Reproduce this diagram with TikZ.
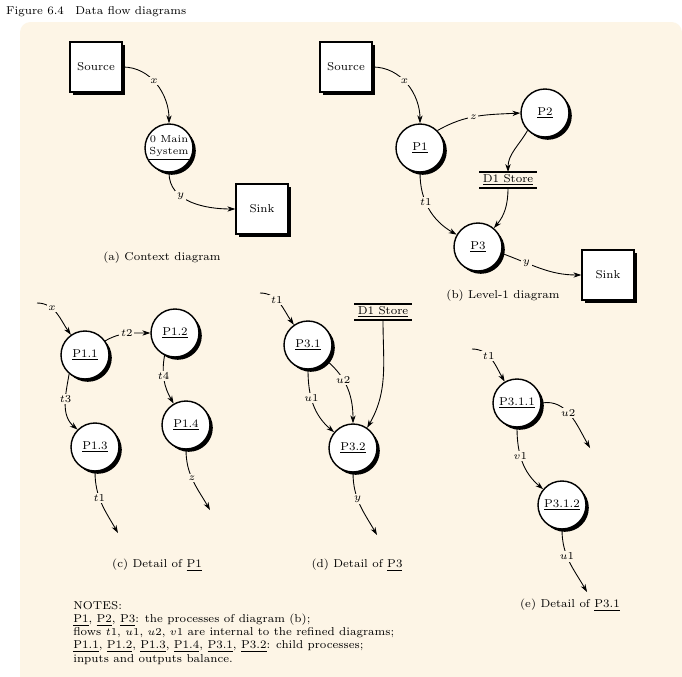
\documentclass[tikz,border=0pt]{standalone}
\usetikzlibrary{shadows,arrows.meta}
\definecolor{bg}{HTML}{FDF5E6}
\begin{document}
\begin{tikzpicture}[x=0.02cm,y=-0.02cm,
  font=\fontsize{6.5}{7.5}\selectfont,
  shad/.style={drop shadow={shadow xshift=1.6pt,shadow yshift=-1.6pt,opacity=1,fill=black}},
  proc/.style={circle,draw,line width=0.8pt,fill=white,minimum size=0.96cm,inner sep=0pt,align=center,shad},
  ent/.style={rectangle,draw,line width=0.8pt,fill=white,minimum width=1.04cm,minimum height=1cm,inner sep=1pt,shad},
  store/.style={rectangle,minimum width=1.14cm,minimum height=0.28cm,inner sep=1pt},
  flow/.style={-{Stealth[length=4.5pt,width=3pt]},line width=0.5pt},
  lab/.style={fill=bg,inner sep=1pt},
  captext/.style={anchor=center}]
\useasboundingbox (0,0) rectangle (682,676);
\fill[white] (0,0) rectangle (682,676);
\fill[bg,rounded corners=6pt] (20,22) rectangle (682,690);
\node[anchor=west] (title) at (0,12) {Figure 6.4\quad Data flow diagrams};

% (a)
\node[ent] (srcA) at (96,67) {Source};
\node[proc,font=\fontsize{5.8}{6.8}\selectfont] (pA) at (169,148) {0 Main\\\underline{System}};
\node[ent] (snkA) at (262,209) {Sink};
\draw[flow] (srcA.east) to[out=0,in=90] node[lab,pos=0.45] {$x$} (pA.north);
\draw[flow] (pA.south) to[out=-90,in=180] node[lab,pos=0.35] {$y$} (snkA.west);
\node[captext] (capA) at (162,258) {(a) Context diagram};

% (b)
\node[ent] (srcB) at (346,67) {Source};
\node[proc] (p1) at (420,148) {\underline{P1}};
\node[proc] (p2) at (545,113) {\underline{P2}};
\node[store] (stB) at (508,180) {\underline{D1 Store}};
\draw[line width=0.8pt] (stB.north west) -- (stB.north east);
\draw[line width=0.8pt] (stB.south west) -- (stB.south east);
\node[proc] (p3) at (478,247) {\underline{P3}};
\node[ent] (snkB) at (608,275) {Sink};
\draw[flow] (srcB.east) to[out=0,in=90] node[lab,pos=0.45] {$x$} (p1.north);
\draw[flow] (p1.45) to[out=30,in=183] node[lab,pos=0.45] {$z$} (p2.west);
\draw[flow] (p2.225) to[out=-120,in=90] (stB.north);
\draw[flow] (stB.south) to[out=-90,in=50] (p3.50);
\draw[flow] (p1.south) to[out=-90,in=150] node[lab,pos=0.4] {$t1$} (p3.150);
\draw[flow] (p3.-15) to[out=-20,in=180] node[lab,pos=0.3] {$y$} (snkB.west);
\node[captext] (capB) at (503,296) {(b) Level-1 diagram};

% (c)
\coordinate (cin) at (37,303);
\node[proc] (c1) at (85,355) {\underline{P1.1}};
\node[proc] (c2) at (175,333) {\underline{P1.2}};
\node[proc] (c3) at (95,447) {\underline{P1.3}};
\node[proc] (c4) at (186,425) {\underline{P1.4}};
\coordinate (c3out) at (118,533);
\coordinate (c4out) at (210,510);
\draw[flow] (cin) to[out=0,in=125] node[lab,pos=0.35] {$x$} (c1.125);
\draw[flow] (c1.35) to[out=30,in=180] node[lab,pos=0.5] {$t2$} (c2.west);
\draw[flow] (c1.-130) to[out=-100,in=140] node[lab,pos=0.4] {$t3$} (c3.135);
\draw[flow] (c2.-115) to[out=-100,in=120] node[lab,pos=0.4] {$t4$} (c4.120);
\draw[flow] (c3.south) to[out=-90,in=120] node[lab,pos=0.4] {$t1$} (c3out);
\draw[flow] (c4.south) to[out=-90,in=120] node[lab,pos=0.45] {$z$} (c4out);
\node[captext] (capC) at (157,565) {(c) Detail of \underline{P1}};

% (d)
\coordinate (din) at (260,293);
\node[proc] (d1) at (308,345) {\underline{P3.1}};
\node[store] (stD) at (383,312) {\underline{D1 Store}};
\draw[line width=0.8pt] (stD.north west) -- (stD.north east);
\draw[line width=0.8pt] (stD.south west) -- (stD.south east);
\node[proc] (d2) at (353,448) {\underline{P3.2}};
\coordinate (dout) at (377,535);
\draw[flow] (din) to[out=0,in=125] node[lab,pos=0.4] {$t1$} (d1.125);
\draw[flow] (d1.south) to[out=-90,in=140] node[lab,pos=0.4] {$u1$} (d2.140);
\draw[flow] (d1.-40) to[out=-40,in=90] node[lab,pos=0.35] {$u2$} (d2.north);
\draw[flow] (stD.south) to[out=-90,in=60] (d2.55);
\draw[flow] (d2.south) to[out=-90,in=120] node[lab,pos=0.4] {$y$} (dout);
\node[captext] (capD) at (357,565) {(d) Detail of \underline{P3}};

% (e)
\coordinate (ein) at (472,349);
\node[proc] (e1) at (517,403) {\underline{P3.1.1}};
\node[proc] (e2) at (562,505) {\underline{P3.1.2}};
\coordinate (eout1) at (590,448);
\coordinate (eout2) at (587,592);
\draw[flow] (ein) to[out=0,in=120] node[lab,pos=0.4] {$t1$} (e1.120);
\draw[flow] (e1.east) to[out=10,in=120] node[lab,pos=0.45] {$u2$} (eout1);
\draw[flow] (e1.south) to[out=-90,in=140] node[lab,pos=0.4] {$v1$} (e2.140);
\draw[flow] (e2.south) to[out=-90,in=120] node[lab,pos=0.4] {$u1$} (eout2);
\node[captext] (capE) at (570,605) {(e) Detail of \underline{P3.1}};

% notes
\node[anchor=north west,align=left,inner sep=0pt] (notes) at (73,601) {%
NOTES:\\
\underline{P1}, \underline{P2}, \underline{P3}: the processes of diagram (b);\\
flows $t1$, $u1$, $u2$, $v1$ are internal to the refined diagrams;\\
\underline{P1.1}, \underline{P1.2}, \underline{P1.3}, \underline{P1.4}, \underline{P3.1}, \underline{P3.2}: child processes;\\
inputs and outputs balance.};
\end{tikzpicture}
\end{document}
